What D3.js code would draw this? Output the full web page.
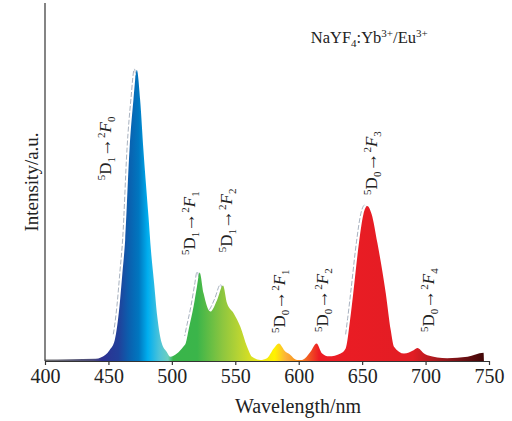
<!DOCTYPE html>
<html>
<head>
<meta charset="utf-8">
<script src="https://cdn.jsdelivr.net/npm/d3@7"></script>
<style>
  body { margin: 0; background: #fff; }
  text { font-family: "Liberation Serif", "Times New Roman", serif; fill: #222; }
</style>
</head>
<body>
<svg id="chart" width="512" height="421"></svg>
<script>
// spectrum
const wavelength = [400, 420, 440, 444, 451, 455, 458.7, 461, 463.2, 466.6, 469.7, 472.4, 475, 477.6, 481.6, 483.5, 486, 488.5, 492, 496, 498.7,
  504, 509, 511, 513.2, 517.1, 519.8, 521.9, 525, 530.3, 535.6, 540.3, 543.5, 548.8, 554, 559.3, 563.2, 569.8,
  575, 580.3, 584.3, 589.6, 592, 598.8, 602, 605, 609.3, 614, 618.5, 623.8, 633, 637, 640.5, 643, 647.5, 651, 654,
  657.5, 662, 668.6, 672.5, 675.1, 683, 690.9, 693.6, 698.8, 701.5, 717, 733.1, 745.7, 746]
const intensity = [0.4, 0.5, 0.6, 1.0, 3.1, 5.9, 15.2, 24.5, 33.8, 58.9, 72.9, 81.3, 72.9, 58.9, 40.3, 31, 21.8, 12.4, 5.0, 2.5, 1.2,
  2.1, 4, 5, 8.7, 15.2, 20.8, 24.7, 18.9, 13.8, 17, 21.1, 16.1, 13.3, 9.6, 4, 1.2, 0.3,
  0.8, 3.5, 4.9, 2.6, 2.1, 0.3, 0.3, 0.8, 2.6, 4.9, 2.1, 1.3, 2.1, 3.5, 11.5, 19, 33, 41, 43.3,
  41, 33, 19, 8.7, 4, 2.1, 3.1, 3.6, 2.1, 1.6, 0.8, 1.2, 2.3, 0]

const xTicks = [400, 450, 500, 550, 600, 650, 700, 750]

// colour of the fill by wavelength
const stopNm = [400, 438, 445, 458, 466, 474, 481, 490, 497, 501, 520, 540, 552, 562, 575, 581, 590, 598, 606, 616, 690, 705, 725, 748]
const stopColor = ["#707070", "#4a4a7a", "#2e3192", "#21409a", "#0b5fae", "#0077c0", "#00aeef", "#4cc3d9", "#6ccfc0", "#39b54a",
  "#3bb54a", "#8dc63f", "#b5d334", "#d7df23", "#f4ea10", "#fff200", "#fbb03b", "#f7941d", "#f26522", "#ed1c24",
  "#e21d24", "#b31b20", "#7a1216", "#3b0606"]

// transition labels: position (nm, intensity) and the two subscripts
const labelNm = [452, 518.5, 547.7, 589.2, 622.7, 661.8, 706.9]
const labelAt = [50.5, 29.6, 30.4, 7.8, 8.1, 46.4, 8.1]
const labelFrom = ["1", "1", "1", "0", "0", "0", "0"]
const labelTo = ["0", "1", "2", "1", "2", "3", "4"]

const svg = d3.select("#chart"),
  margin = { top: 3, right: 23, bottom: 60, left: 45 },
  width = +svg.attr("width") - margin.left - margin.right,
  height = +svg.attr("height") - margin.top - margin.bottom

const x = d3.scaleLinear().domain([400, 750]).range([0, width])
const y = d3.scaleLinear().domain([0, 100]).range([height, 0])

const g = svg.append("g")
  .attr("transform", "translate(" + margin.left + "," + margin.top + ")")

const data = wavelength.map((w, i) => ({ w, v: intensity[i] }))

const defs = svg.append("defs")

// gradient
const grad = defs.append("linearGradient")
  .attr("id", "spec")
  .attr("gradientUnits", "userSpaceOnUse")
  .attr("x1", x(400)).attr("x2", x(750))
  .attr("y1", 0).attr("y2", 0)
grad.selectAll("stop")
  .data(stopNm)
  .join("stop")
  .attr("offset", (d) => (d - 400) / 350)
  .attr("stop-color", (d, i) => stopColor[i])

// the dashed outline only shows on the tall parts
defs.append("clipPath").attr("id", "upper")
  .append("rect")
  .attr("x", -10).attr("y", 0)
  .attr("width", width + 20).attr("height", y(7))

const area = d3.area()
  .x((d) => x(d.w))
  .y0(y(0))
  .y1((d) => y(d.v))
  .curve(d3.curveMonotoneX)

const line = d3.line()
  .x((d) => x(d.w))
  .y((d) => y(d.v))
  .curve(d3.curveMonotoneX)

g.append("g")
  .attr("clip-path", "url(#upper)")
  .append("path")
  .datum(data)
  .attr("d", line)
  .attr("fill", "none")
  .attr("stroke", "#a8b2c0")
  .attr("stroke-width", 1)
  .attr("stroke-dasharray", "5,2")
  .attr("transform", "translate(-2.5,-1)")

g.append("path")
  .datum(data)
  .attr("d", area)
  .attr("fill", "url(#spec)")

// axes
const xAxis = g.append("g")
  .attr("transform", "translate(0," + height + ")")
  .call(d3.axisBottom(x).tickValues(xTicks).tickSize(4).tickSizeOuter(0).tickPadding(4))
xAxis.selectAll("path, line").attr("stroke", "#333").attr("stroke-width", 1.2)
xAxis.selectAll("text")
  .attr("font-size", 20)
  .attr("font-family", "Liberation Serif")
  .attr("fill", "#222")

g.append("line")
  .attr("x1", 0).attr("x2", 0)
  .attr("y1", 0).attr("y2", height)
  .attr("stroke", "#333")
  .attr("stroke-width", 1.2)

g.append("text")
  .attr("x", 253)
  .attr("y", height + 52)
  .attr("text-anchor", "middle")
  .attr("font-size", 20)
  .text("Wavelength/nm")

g.append("text")
  .attr("transform", "translate(-7," + y(50) + ") rotate(-90)")
  .attr("text-anchor", "middle")
  .attr("font-size", 19)
  .text("Intensity/a.u.")

// title with sub/superscripts
const t = g.append("text")
  .attr("x", x(609.5))
  .attr("y", 40)
  .attr("font-size", 16.5)
t.append("tspan").text("NaYF")
t.append("tspan").attr("dy", 4).attr("font-size", 11).text("4")
t.append("tspan").attr("dy", -4).text(":Yb")
t.append("tspan").attr("dy", -6).attr("font-size", 11).text("3+")
t.append("tspan").attr("dy", 6).text("/Eu")
t.append("tspan").attr("dy", -6).attr("font-size", 11).text("3+")

// transition labels
labelNm.forEach((nm, i) => {
  const lab = g.append("text")
    .attr("transform", "translate(" + x(nm) + "," + y(labelAt[i]) + ") rotate(-90)")
    .attr("font-size", 17)
  lab.append("tspan").attr("dy", -6).attr("font-size", 11).text("5")
  lab.append("tspan").attr("dy", 6).text("D")
  lab.append("tspan").attr("dy", 4).attr("font-size", 11).text(labelFrom[i])
  lab.append("tspan").attr("dy", -4).attr("font-size", 19).text("\u2192")
  lab.append("tspan").attr("dy", -6).attr("font-size", 11).text("2")
  lab.append("tspan").attr("dy", 6).attr("font-style", "italic").text("F")
  lab.append("tspan").attr("dy", 4).attr("font-size", 11).text(labelTo[i])
})
</script>
</body>
</html>
